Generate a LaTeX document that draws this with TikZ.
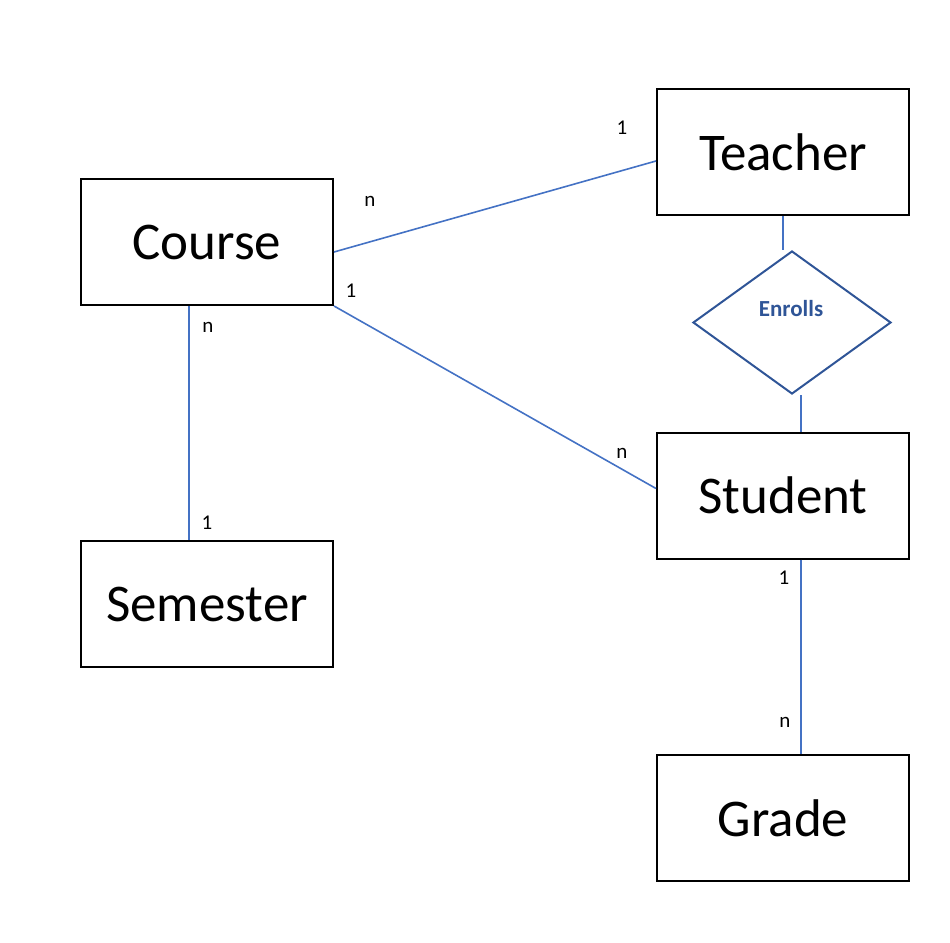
\documentclass[tikz,border=0pt]{standalone}
\usepackage{fontspec}
\setmainfont{Carlito}
\usetikzlibrary{shapes.geometric}
\definecolor{linkblue}{HTML}{4472C4}
\definecolor{textblue}{HTML}{2F5597}
\begin{document}
\begin{tikzpicture}[x=1pt,y=-1pt,
  entity/.style={draw=black,line width=2pt,minimum width=252pt,minimum height=126pt,inner sep=0pt,font=\fontsize{53}{62}\selectfont},
  relation/.style={draw=textblue,line width=2pt,diamond,minimum width=198pt,minimum height=143pt,inner sep=0pt},
  link/.style={draw=linkblue,line width=1.6pt},
  card/.style={font=\fontsize{21}{24}\selectfont,inner sep=0pt}]
\useasboundingbox (0,0) rectangle (950,942);
\node[entity] (teacher) at (783,152) {Teacher};
\node[entity] (course) at (207,242) {Course};
\node[entity] (semester) at (207,604) {Semester};
\node[entity] (student) at (783,495.5) {Student};
\node[entity] (grade) at (783,818) {Grade};
\node[relation] (enr) at (792,322.5) {};
\node[font=\bfseries\fontsize{23}{26}\selectfont,text=textblue,inner sep=0pt] (enrtxt) at (791,309) {Enrolls};
% connectors
\draw[link] (teacher.south) -- (teacher.south |- enr.north);
\draw[link] ([xshift=9pt]enr.south) -- ([xshift=9pt]enr.south |- student.north);
\draw[link] ([yshift=-10pt]course.east) -- ([yshift=-9pt]teacher.west);
\draw[link] (course.south east) -- ([yshift=7pt]student.west);
\draw[link] ([xshift=-18pt]course.south) -- ([xshift=-18pt]course.south |- semester.north);
\draw[link] ([xshift=18pt]student.south) -- ([xshift=18pt]student.south |- grade.north);
% cardinalities
\node[card] (c1) at (370,201) {n};
\node[card] (c2) at (622,128) {1};
\node[card] (c3) at (351,291) {1};
\node[card] (c4) at (208,327) {n};
\node[card] (c5) at (207,523) {1};
\node[card] (c6) at (622,453) {n};
\node[card] (c7) at (784,578) {1};
\node[card] (c8) at (785,722) {n};
\end{tikzpicture}
\end{document}
